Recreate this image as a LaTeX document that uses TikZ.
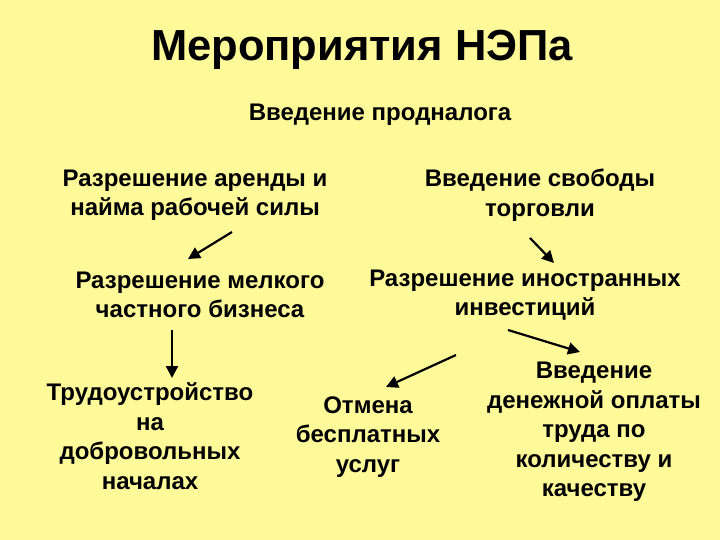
\documentclass[tikz,border=0pt]{standalone}
\usepackage{fontspec}
\setmainfont{Liberation Sans}
\usetikzlibrary{arrows.meta}
\begin{document}
\begin{tikzpicture}[x=1pt,y=-1pt,
 txt/.style={font=\fontsize{24}{29.5}\selectfont\bfseries,align=center,inner sep=0},
 arr/.style={-{Triangle[length=12pt,width=12pt]},line width=2.2pt}]
\fill[yellow!40] (0,0) rectangle (720,540);
\useasboundingbox (0,0) rectangle (720,540);
\node[font=\fontsize{43.5}{48}\selectfont\bfseries,inner sep=0] (t) at (362,50) {Мероприятия НЭПа};
\node[txt] (a) at (380,115) {Введение продналога};
\node[txt] (b) at (195,195) {Разрешение аренды и\\найма рабочей силы};
\node[txt] (c) at (540,195) {Введение свободы\\торговли};
\node[txt] (d) at (200,295) {Разрешение мелкого\\частного бизнеса};
\node[txt] (e) at (525,295) {Разрешение иностранных\\инвестиций};
\node[txt] (f) at (150,436) {Трудоустройство\\на\\добровольных\\началах};
\node[txt] (g) at (368,437) {Отмена\\бесплатных\\услуг};
\node[txt] (h) at (594,432) {Введение\\денежной оплаты\\труда по\\количеству и\\качеству};
\coordinate (b1) at (232,232); \coordinate (b2) at (188,259);
\coordinate (c1) at (530,238); \coordinate (c2) at (554,263);
\coordinate (d1) at (172,330); \coordinate (d2) at (172,378);
\coordinate (e1) at (456,355); \coordinate (e2) at (386,387);
\coordinate (e3) at (508,330); \coordinate (e4) at (580,352);
\draw[arr] (b1) -- (b2);
\draw[arr] (c1) -- (c2);
\draw[arr] (d1) -- (d2);
\draw[arr] (e1) -- (e2);
\draw[arr] (e3) -- (e4);
\end{tikzpicture}
\end{document}
